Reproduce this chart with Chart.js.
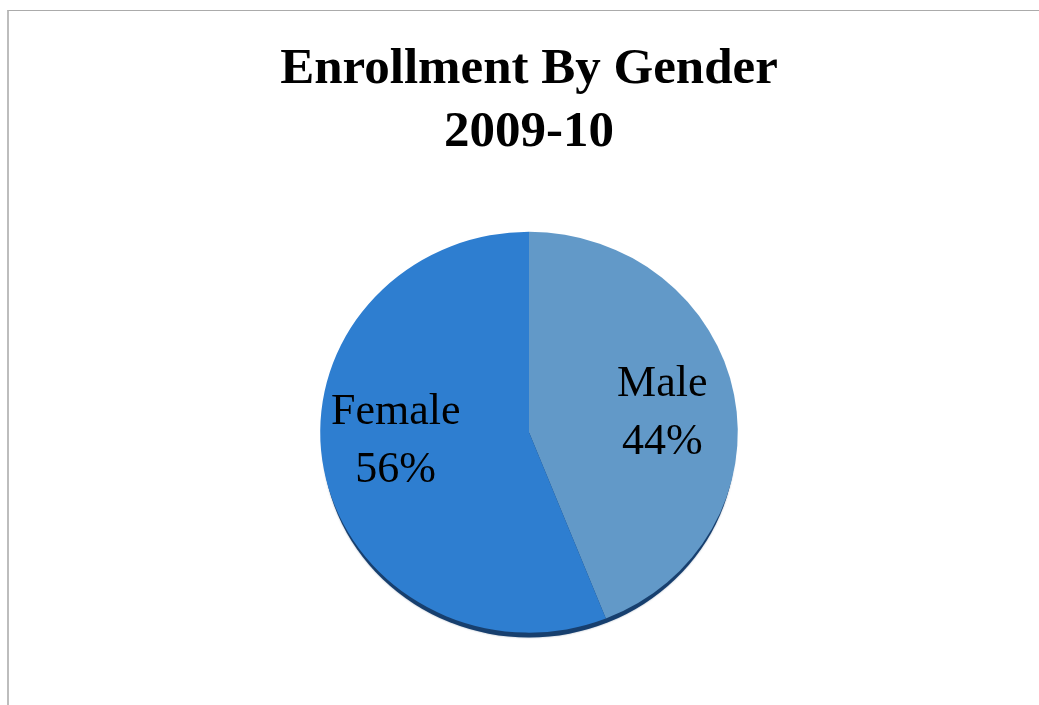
<!DOCTYPE html>
<html>
<head>
<meta charset="utf-8">
<script src="https://cdn.jsdelivr.net/npm/chart.js@4.4.1/dist/chart.umd.min.js"></script>
<style>
    html, body { margin: 0; padding: 0; background: #fff; }
    #wrap { position: relative; width: 1039px; height: 705px; }
    #frame {
        position: absolute; left: 7px; top: 10px; right: 0; bottom: 0;
        border-left: 2px solid #bdbdbd; border-top: 1px solid #ababab;
    }
    canvas { position: absolute; left: 0; top: 0; }
</style>
</head>
<body>
<div id="wrap">
    <div id="frame"></div>
    <canvas id="genderChart" width="1039" height="705"></canvas>
</div>
<script>
const genders = ['Male', 'Female'];
const shares = [44, 56];
const sliceColors = ['#6299C8', '#2E7ED0'];
const titleLines = ['Enrollment By Gender', '2009-10'];

// slight vertical squash so the pie reads as a tilted disc
const squash = 0.96;

const discPlugin = {
    id: 'disc',
    beforeDatasetsDraw(chart) {
        const arc = chart.getDatasetMeta(0).data[0];
        if (!arc) return;
        const ctx = chart.ctx;
        const { x, y, outerRadius } = arc;
        // dark rim underneath, only peeks out at the bottom
        ctx.save();
        ctx.translate(x, y);
        ctx.scale(1, squash);
        ctx.beginPath();
        ctx.arc(0, 7, outerRadius - 2, 0, Math.PI * 2);
        ctx.fillStyle = '#173f6e';
        ctx.shadowColor = 'rgba(20,50,90,0.4)';
        ctx.shadowBlur = 2;
        ctx.fill();
        ctx.restore();

        ctx.save();
        ctx.translate(x, y);
        ctx.scale(1, squash);
        ctx.translate(-x, -y);
    },
    afterDatasetsDraw(chart) {
        const ctx = chart.ctx;
        ctx.restore();

        // slice labels: name and percentage
        const meta = chart.getDatasetMeta(0);
        const yShift = [6, -15];
        ctx.save();
        ctx.font = '44px "Liberation Serif", serif';
        ctx.fillStyle = '#000';
        ctx.textAlign = 'center';
        ctx.textBaseline = 'middle';
        meta.data.forEach((el, i) => {
            const mid = (el.startAngle + el.endAngle) / 2;
            const r = el.outerRadius * 0.65;
            const lx = el.x + Math.cos(mid) * r;
            const ly = el.y + Math.sin(mid) * r * squash + yShift[i];
            ctx.fillText(genders[i], lx, ly - 29);
            ctx.fillText(shares[i] + '%', lx, ly + 29);
        });
        ctx.restore();
    }
};

new Chart(document.getElementById('genderChart').getContext('2d'), {
    type: 'pie',
    data: {
        labels: genders,
        datasets: [{
            data: shares,
            backgroundColor: sliceColors,
            borderWidth: 0
        }]
    },
    options: {
        responsive: false,
        animation: false,
        layout: {
            padding: { left: 20, right: 1, top: 0, bottom: 64 }
        },
        plugins: {
            legend: { display: false },
            tooltip: { enabled: false },
            title: {
                display: true,
                text: titleLines,
                color: '#000',
                font: { family: '"Liberation Serif", serif', size: 51, weight: 'bold', lineHeight: 1.22 },
                padding: { top: 39, bottom: 60 }
            }
        }
    },
    plugins: [discPlugin]
});
</script>
</body>
</html>
